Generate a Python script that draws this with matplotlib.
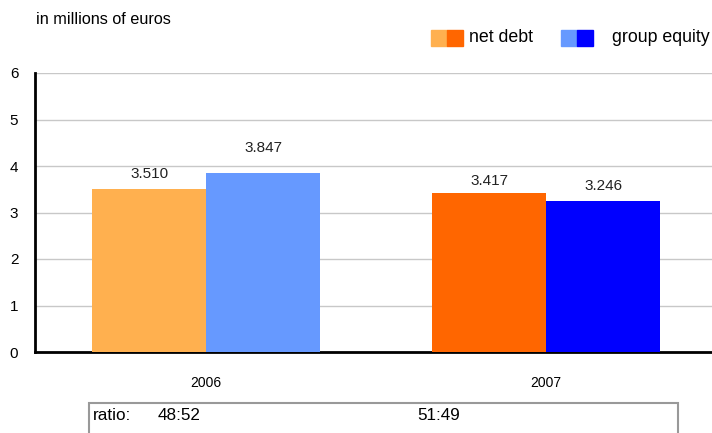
import matplotlib
matplotlib.use("Agg")
import matplotlib.pyplot as plt
from matplotlib.patches import Rectangle
from matplotlib.transforms import offset_copy

plt.rcParams['font.family'] = ['Liberation Sans', 'DejaVu Sans']

years = ["2006", "2007"]
net_debt = [3.510, 3.417]
group_equity = [3.847, 3.246]
net_debt_labels = ["3.510", "3.417"]
equity_labels = ["3.847", "3.246"]
ratios = ["48:52", "51:49"]
net_debt_colors = ["#FFB04F", "#FF6600"]
equity_colors = ["#6699FF", "#0000FF"]

W, H = 712, 433
fig = plt.figure(figsize=(W/100, H/100), dpi=100)
ax = fig.add_axes([35/W, 1-352/H, (712-35)/W, (352-73)/H])

x = list(range(len(years)))
bw = 0.335
ax.bar([i - bw/2 for i in x], net_debt, width=bw, color=net_debt_colors, zorder=3)
ax.bar([i + bw/2 for i in x], group_equity, width=bw, color=equity_colors, zorder=3)

nd_off = [15, 12]
eq_off = [25, 15]
for i in x:
    t1 = offset_copy(ax.transData, fig=fig, x=0, y=nd_off[i]*0.72, units='points')
    t2 = offset_copy(ax.transData, fig=fig, x=0, y=eq_off[i]*0.72, units='points')
    ax.text(i - bw/2, net_debt[i], net_debt_labels[i], ha='center', va='center',
            fontsize=11, color='#222222', transform=t1)
    ax.text(i + bw/2, group_equity[i], equity_labels[i], ha='center', va='center',
            fontsize=11, color='#222222', transform=t2)

ax.set_xlim(-0.503, 1.488)
ax.set_ylim(0, 6)
ax.set_yticks(range(0, 7))
ax.yaxis.grid(True, color='#C8C8C8', linewidth=1, zorder=0)
ax.set_xticks(x)
ax.set_xticklabels(years)
ax.tick_params(axis='both', length=0)
ax.tick_params(axis='x', pad=17, labelsize=10)
ax.tick_params(axis='y', pad=12, labelsize=11)
for s in ['top', 'right']:
    ax.spines[s].set_visible(False)
for s in ['left', 'bottom']:
    ax.spines[s].set_linewidth(2)
    ax.spines[s].set_color('black')

fig.text(36/W, 1-20/H, "in millions of euros", fontsize=11.7, va='center', ha='left')

# legend
def legend_item(x0, c1, c2, label, tx):
    y0 = 1-46/H
    h = 16/H
    fig.patches.append(Rectangle((x0/W, y0), 16/W, h, transform=fig.transFigure, color=c1))
    fig.patches.append(Rectangle(((x0+16)/W, y0), 16/W, h, transform=fig.transFigure, color=c2))
    fig.text(tx/W, 1-37/H, label, fontsize=12.8, va='center', ha='left')

legend_item(431, net_debt_colors[0], net_debt_colors[1], "net debt", 469)
legend_item(561, equity_colors[0], equity_colors[1], "group equity", 612)

# ratio box
fig.patches.append(Rectangle((89/W, -0.05), (678-89)/W, (1-403/H)+0.05, transform=fig.transFigure,
                             facecolor='white', edgecolor='#999999', linewidth=1.5))
fig.text(93/W, 1-415/H, "ratio:", fontsize=12.3, va='center', ha='left')
fig.text(158/W, 1-415/H, ratios[0], fontsize=12.3, va='center', ha='left')
fig.text(417/W, 1-415/H, ratios[1], fontsize=12.3, va='center', ha='left')

fig.savefig("out.png", dpi=100)
